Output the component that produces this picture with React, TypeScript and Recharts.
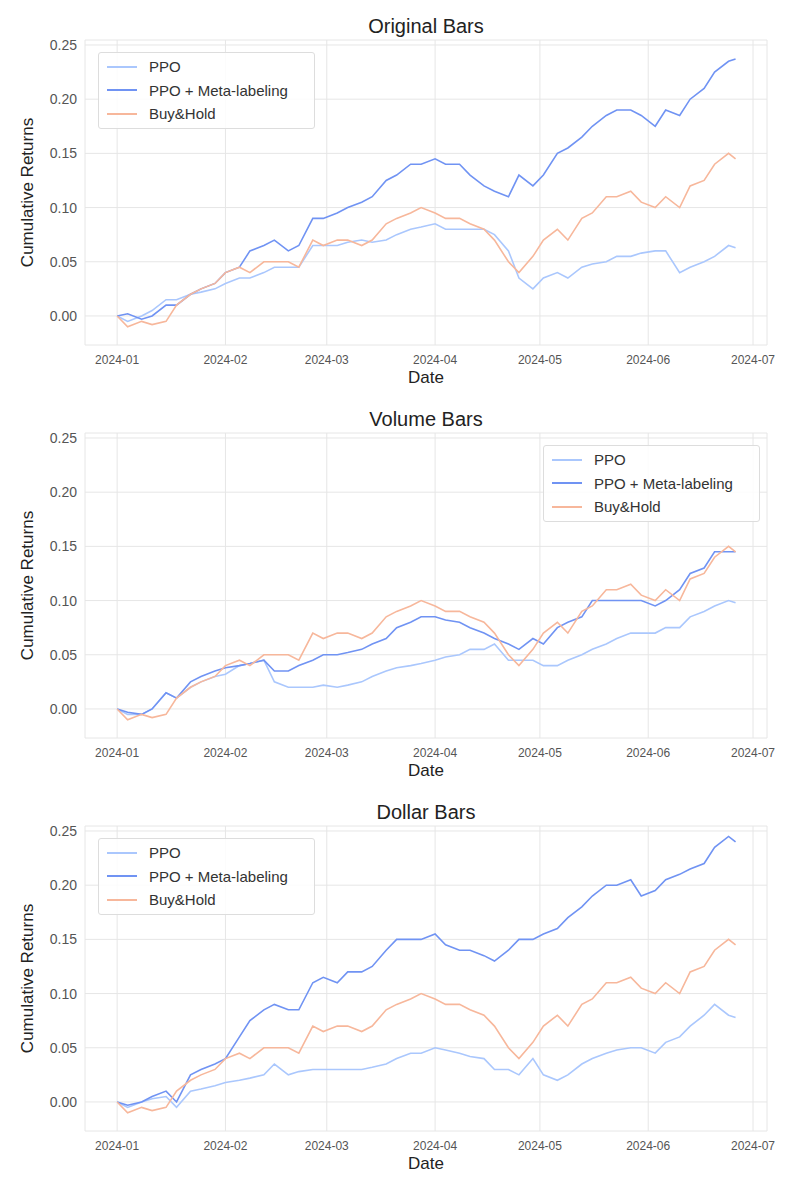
import React from "react";
import { LineChart, Line, XAxis, YAxis, CartesianGrid } from "recharts";

const days = [0,3,7,10,14,17,21,24,28,31,35,38,42,45,49,52,56,59,63,66,70,73,77,80,84,87,91,94,98,101,105,108,112,115,119,122,126,129,133,136,140,143,147,150,154,157,161,164,168,171,175,177];
const buyHold = [0,-0.01,-0.005,-0.008,-0.005,0.01,0.02,0.025,0.03,0.04,0.045,0.04,0.05,0.05,0.05,0.045,0.07,0.065,0.07,0.07,0.065,0.07,0.085,0.09,0.095,0.1,0.095,0.09,0.09,0.085,0.08,0.07,0.05,0.04,0.055,0.07,0.08,0.07,0.09,0.095,0.11,0.11,0.115,0.105,0.1,0.11,0.1,0.12,0.125,0.14,0.15,0.145];
const origPPO = [0,-0.005,0,0.005,0.015,0.015,0.02,0.022,0.025,0.03,0.035,0.035,0.04,0.045,0.045,0.045,0.065,0.065,0.065,0.068,0.07,0.068,0.07,0.075,0.08,0.082,0.085,0.08,0.08,0.08,0.08,0.075,0.06,0.035,0.025,0.035,0.04,0.035,0.045,0.048,0.05,0.055,0.055,0.058,0.06,0.06,0.04,0.045,0.05,0.055,0.065,0.063];
const origMeta = [0,0.002,-0.003,0,0.01,0.01,0.02,0.025,0.03,0.04,0.045,0.06,0.065,0.07,0.06,0.065,0.09,0.09,0.095,0.1,0.105,0.11,0.125,0.13,0.14,0.14,0.145,0.14,0.14,0.13,0.12,0.115,0.11,0.13,0.12,0.13,0.15,0.155,0.165,0.175,0.185,0.19,0.19,0.185,0.175,0.19,0.185,0.2,0.21,0.225,0.235,0.237];
const volPPO = [0,-0.005,-0.005,0,0.015,0.01,0.02,0.025,0.03,0.032,0.04,0.042,0.045,0.025,0.02,0.02,0.02,0.022,0.02,0.022,0.025,0.03,0.035,0.038,0.04,0.042,0.045,0.048,0.05,0.055,0.055,0.06,0.045,0.045,0.045,0.04,0.04,0.045,0.05,0.055,0.06,0.065,0.07,0.07,0.07,0.075,0.075,0.085,0.09,0.095,0.1,0.098];
const volMeta = [0,-0.003,-0.005,0,0.015,0.01,0.025,0.03,0.035,0.038,0.04,0.042,0.045,0.035,0.035,0.04,0.045,0.05,0.05,0.052,0.055,0.06,0.065,0.075,0.08,0.085,0.085,0.082,0.08,0.075,0.07,0.065,0.06,0.055,0.065,0.06,0.075,0.08,0.085,0.1,0.1,0.1,0.1,0.1,0.095,0.1,0.11,0.125,0.13,0.145,0.145,0.145];
const dolPPO = [0,-0.005,0,0.003,0.005,-0.005,0.01,0.012,0.015,0.018,0.02,0.022,0.025,0.035,0.025,0.028,0.03,0.03,0.03,0.03,0.03,0.032,0.035,0.04,0.045,0.045,0.05,0.048,0.045,0.042,0.04,0.03,0.03,0.025,0.04,0.025,0.02,0.025,0.035,0.04,0.045,0.048,0.05,0.05,0.045,0.055,0.06,0.07,0.08,0.09,0.08,0.078];
const dolMeta = [0,-0.003,0,0.005,0.01,0,0.025,0.03,0.035,0.04,0.06,0.075,0.085,0.09,0.085,0.085,0.11,0.115,0.11,0.12,0.12,0.125,0.14,0.15,0.15,0.15,0.155,0.145,0.14,0.14,0.135,0.13,0.14,0.15,0.15,0.155,0.16,0.17,0.18,0.19,0.2,0.2,0.205,0.19,0.195,0.205,0.21,0.215,0.22,0.235,0.245,0.24];

const monthTicks = [0, 31, 60, 91, 121, 152, 182];
const monthLabels = ["2024-01","2024-02","2024-03","2024-04","2024-05","2024-06","2024-07"];
const yTicks = [0, 0.05, 0.1, 0.15, 0.2, 0.25];
const seriesNames = ["PPO", "PPO + Meta-labeling", "Buy&Hold"];
const colors = ["#aac7fd", "#7093f3", "#f7b79b"];

const FONT = "'Liberation Sans', Arial, sans-serif";

function build(ppo: number[], meta: number[]) {
  return days.map((d, i) => ({ d, ppo: ppo[i], meta: meta[i], bh: buyHold[i] }));
}

const LegendBox = ({ left }: { left: number }) => (
  <div style={{ position: "absolute", top: 52, left, width: 199, background: "rgba(255,255,255,0.85)", border: "1px solid #ddd", borderRadius: 3, padding: "2px 8px", fontFamily: FONT, fontSize: 15, color: "#333", zIndex: 2 }}>
    {seriesNames.map((n, i) => (
      <div key={n} style={{ display: "flex", alignItems: "center", height: 23.5 }}>
        <span style={{ display: "inline-block", width: 30, height: 2, background: colors[i], marginRight: 12 }} />
        {n}
      </div>
    ))}
  </div>
);

function Panel({ title, ppo, meta, legendRight }: { title: string; ppo: number[]; meta: number[]; legendRight?: boolean }) {
  const data = build(ppo, meta);
  return (
    <div style={{ position: "relative", width: 800, height: 393 }}>
      <div style={{ position: "absolute", top: 15, left: 85, width: 682, textAlign: "center", fontFamily: FONT, fontSize: 20, color: "#222" }}>{title}</div>
      <LegendBox left={legendRight ? 543 : 98} />
      <LineChart width={800} height={393} data={data} margin={{ top: 40, right: 33, left: 25, bottom: 8 }}>
        <CartesianGrid stroke="#e6e6e6" />
        <XAxis dataKey="d" type="number" domain={[-9.2, 186]} ticks={monthTicks} tickFormatter={(v: number) => monthLabels[monthTicks.indexOf(v)]} axisLine={false} tickLine={false} height={40} tick={{ fontSize: 12, fill: "#555", fontFamily: FONT }} tickMargin={4}
          label={{ value: "Date", position: "insideBottom", offset: 2, style: { fontSize: 17, fill: "#222", fontFamily: FONT } }} />
        <YAxis type="number" domain={[-0.0268, 0.2546]} ticks={yTicks} tickFormatter={(v: number) => v.toFixed(2)} axisLine={false} tickLine={false} width={60} tick={{ fontSize: 14, fill: "#555", fontFamily: FONT }}
          label={{ value: "Cumulative Returns", angle: -90, position: "insideLeft", offset: 2, style: { textAnchor: "middle", fontSize: 17, fill: "#222", fontFamily: FONT } }} />
        <Line dataKey="ppo" name="PPO" stroke={colors[0]} strokeWidth={1.6} dot={false} isAnimationActive={false} />
        <Line dataKey="meta" name="PPO + Meta-labeling" stroke={colors[1]} strokeWidth={1.6} dot={false} isAnimationActive={false} />
        <Line dataKey="bh" name="Buy&Hold" stroke={colors[2]} strokeWidth={1.6} dot={false} isAnimationActive={false} />
      </LineChart>
    </div>
  );
}

export default function App() {
  return (
    <div style={{ position: "absolute", top: 0, left: 0, width: 800, height: 1200, background: "#fff" }}>
      <Panel title="Original Bars" ppo={origPPO} meta={origMeta} />
      <Panel title="Volume Bars" ppo={volPPO} meta={volMeta} legendRight />
      <Panel title="Dollar Bars" ppo={dolPPO} meta={dolMeta} />
    </div>
  );
}
